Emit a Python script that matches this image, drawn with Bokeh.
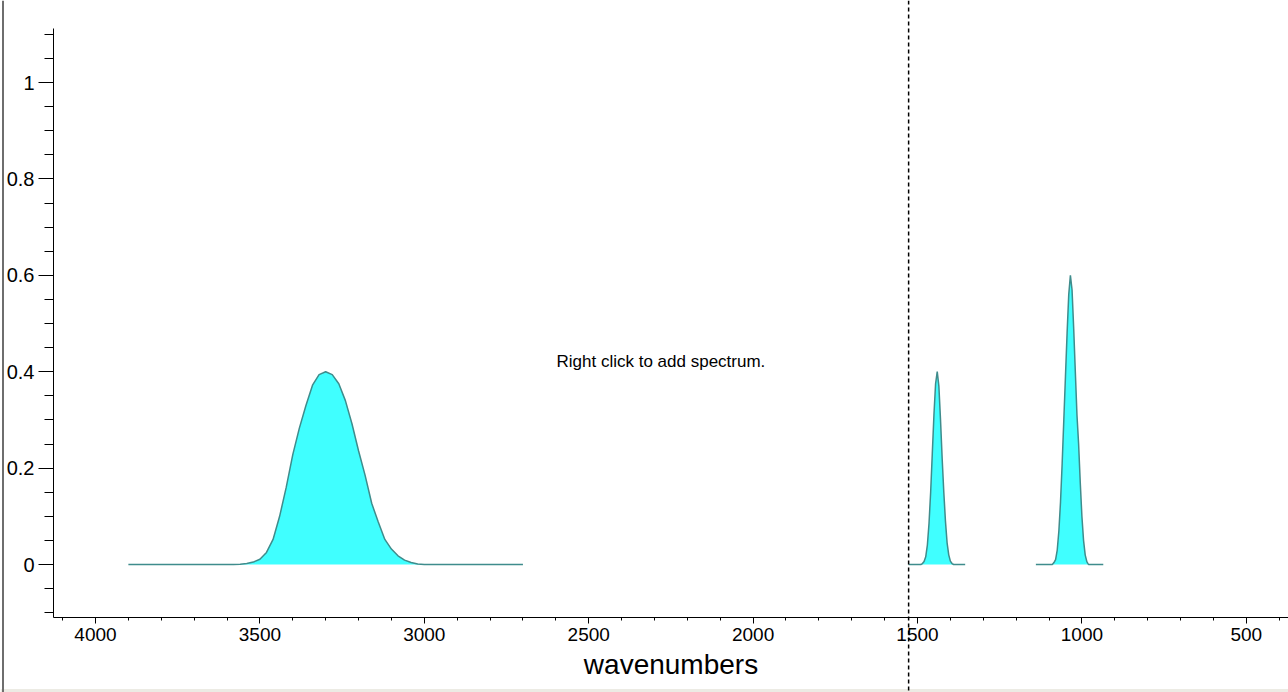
from bokeh.plotting import figure
from bokeh.models import (Range1d, LinearAxis, FixedTicker, CustomJSTickFormatter,
                          Span, Label, BoxAnnotation, ColumnDataSource)
from bokeh.embed import file_html
from bokeh.resources import INLINE

# ---- spectrum data (wavenumber in cm-1, absorbance) ----
band_oh_wn = [3900, 3580, 3560, 3540, 3520, 3500, 3480, 3460, 3440, 3420, 3400, 3380,
              3360, 3340, 3320, 3300, 3280, 3260, 3240, 3220, 3200, 3180, 3160, 3140,
              3120, 3100, 3080, 3060, 3040, 3020, 3000, 2700]
band_oh_abs = [0, 0, 0.0005, 0.002, 0.005, 0.011, 0.025, 0.052, 0.100, 0.160, 0.228,
               0.283, 0.330, 0.372, 0.394, 0.400, 0.394, 0.375, 0.340, 0.292, 0.236,
               0.185, 0.127, 0.088, 0.052, 0.032, 0.018, 0.009, 0.004, 0.001, 0, 0]

band_ch_wn = [1527, 1490, 1485, 1480, 1475, 1470, 1465, 1460, 1455, 1450, 1445, 1440,
              1435, 1430, 1425, 1420, 1415, 1410, 1405, 1400, 1395, 1390, 1355]
band_ch_abs = [0, 0, 0.002, 0.006, 0.016, 0.04, 0.085, 0.15, 0.23, 0.31, 0.375, 0.4,
               0.37, 0.3, 0.22, 0.15, 0.09, 0.045, 0.02, 0.007, 0.002, 0, 0]

band_co_wn = [1140, 1090, 1085, 1080, 1075, 1070, 1065, 1060, 1055, 1050, 1045, 1040,
              1035, 1030, 1025, 1020, 1015, 1010, 1005, 1000, 995, 990, 985, 980, 935]
band_co_abs = [0, 0, 0.004, 0.01, 0.03, 0.07, 0.13, 0.21, 0.3, 0.39, 0.48, 0.56,
               0.6, 0.57, 0.49, 0.4, 0.31, 0.25, 0.17, 0.1, 0.05, 0.02, 0.006, 0, 0]

cursor_wn = 1527

x_major_ticks = [4000, 3500, 3000, 2500, 2000, 1500, 1000, 500]
x_minor_ticks = list(range(400, 4200, 100))
y_major_ticks = [0, 0.2, 0.4, 0.6, 0.8, 1]
y_minor_ticks = [round(-0.1 + 0.05 * i, 2) for i in range(25)]

# ---- canvas layout: the frame fills the whole canvas, axes sit inside it ----
W, H = 1288, 692
PX_4000, PX_PER_WN = 95.0, 164.4 / 500.0
PY_ZERO, PY_PER_ABS = 564.0, 482.0


def wn_at(px):
    return 4000.0 - (px - PX_4000) / PX_PER_WN


def abs_at(py):
    return (PY_ZERO - py) / PY_PER_ABS


x_axis_wn = wn_at(53)      # position of the absorbance axis
y_axis_abs = abs_at(617)   # position of the wavenumber axis
y_top_abs = abs_at(28)

FONT = "Liberation Sans"

p = figure(width=W, height=H, output_backend="svg", toolbar_location=None,
           x_range=Range1d(wn_at(0), wn_at(W)), y_range=Range1d(abs_at(H), abs_at(0)),
           x_axis_type=None, y_axis_type=None, min_border=0)
p.outline_line_color = None
p.background_fill_color = "white"
p.border_fill_color = "white"

# window edges
p.add_layout(BoxAnnotation(top=abs_at(688.5), fill_color="#ecebe4", fill_alpha=1.0,
                           line_color=None, level="underlay"))
p.add_layout(Span(location=wn_at(2.5), dimension="height", line_color="#6e6e6e",
                  line_width=2))

xaxis = LinearAxis(fixed_location=y_axis_abs, bounds=(wn_at(W), x_axis_wn),
                   ticker=FixedTicker(ticks=x_major_ticks, minor_ticks=x_minor_ticks),
                   axis_label="wavenumbers")
xaxis.major_tick_out = 6
xaxis.major_tick_in = 0
xaxis.minor_tick_out = 3
xaxis.minor_tick_in = 0
xaxis.major_label_standoff = 4
xaxis.major_label_text_font = FONT
xaxis.major_label_text_font_size = "19px"
xaxis.major_label_text_color = "black"
xaxis.axis_label_text_font = FONT
xaxis.axis_label_text_font_size = "28px"
xaxis.axis_label_text_font_style = "normal"
xaxis.axis_label_text_color = "black"
xaxis.axis_label_standoff = 5
xaxis.axis_line_color = "black"
xaxis.major_tick_line_color = "black"
xaxis.minor_tick_line_color = "black"
p.add_layout(xaxis, "below")

yaxis = LinearAxis(fixed_location=x_axis_wn, bounds=(y_axis_abs, y_top_abs),
                   ticker=FixedTicker(ticks=y_major_ticks, minor_ticks=y_minor_ticks),
                   formatter=CustomJSTickFormatter(code="return String(tick)"))
yaxis.major_tick_out = 15
yaxis.major_tick_in = 0
yaxis.minor_tick_out = 9
yaxis.minor_tick_in = 0
yaxis.major_label_standoff = 4
yaxis.major_label_text_font = FONT
yaxis.major_label_text_font_size = "20px"
yaxis.major_label_text_color = "black"
yaxis.axis_line_color = "black"
yaxis.major_tick_line_color = "black"
yaxis.minor_tick_line_color = "black"
p.add_layout(yaxis, "left")

# filled absorbance bands
FILL = "#40ffff"
EDGE = "#3f8c8c"
for wn, ab in [(band_oh_wn, band_oh_abs), (band_ch_wn, band_ch_abs),
               (band_co_wn, band_co_abs)]:
    src = ColumnDataSource(dict(wn=wn, ab=ab, base=[0] * len(wn)))
    p.varea(x="wn", y1="base", y2="ab", source=src, fill_color=FILL, fill_alpha=1.0)
    p.line(x="wn", y="ab", source=src, line_color=EDGE, line_width=1.5)

# cursor
p.add_layout(Span(location=cursor_wn, dimension="height", line_color="black",
                  line_width=1.5, line_dash="4 3"))

p.add_layout(Label(x=wn_at(556), y=abs_at(361), text="Right click to add spectrum.",
                   text_font=FONT, text_font_size="17px", text_color="black",
                   text_baseline="middle", text_align="left"))

open("out.html", "w").write(file_html(p, INLINE))
